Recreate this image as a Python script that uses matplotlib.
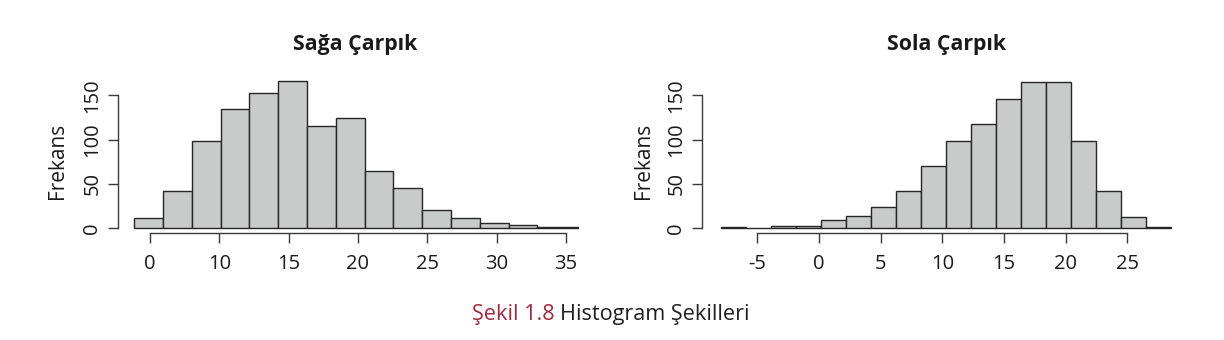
import matplotlib
matplotlib.use("Agg")
import matplotlib.pyplot as plt
import numpy as np

plt.rcParams['font.family'] = ['Open Sans', 'DejaVu Sans']

# ---- data ----
left_title = "Sağa Çarpık"
right_title = "Sola Çarpık"
ylabel = "Frekans"
caption_num = "Şekil 1.8"
caption_text = "Histogram Şekilleri"

left_counts = [12, 42, 99, 134, 153, 166, 115, 124, 65, 45, 21, 12, 6, 4, 2, 2]
left_bin_start = 3.87
left_bin_width = 2.076
left_tick_pos = [5, 10, 15, 20, 25, 30, 35]
left_tick_labels = ["0", "10", "15", "20", "25", "30", "35"]

right_counts = [2, 0, 3, 3, 9, 14, 24, 42, 70, 99, 118, 146, 165, 165, 99, 42, 13, 2]
right_bin_start = -7.97
right_bin_width = 2.029
right_tick_pos = [-5, 0, 5, 10, 15, 20, 25]
right_tick_labels = ["-5", "0", "5", "10", "15", "20", "25"]

y_ticks = [0, 50, 100, 150]

W, H = 1224, 340
fig = plt.figure(figsize=(W / 100, H / 100), dpi=100)
fig.patch.set_facecolor('white')

BAR_FC = '#c9caca'
BAR_EC = '#262626'
AX_C = '#3a3a3a'


def px_rect(l, r, top, bottom):
    return [l / W, 1 - bottom / H, (r - l) / W, (bottom - top) / H]


def draw_hist(ax, counts, start, width, xlim, ticks, labels, title, title_x):
    edges = start + width * np.arange(len(counts) + 1)
    ax.bar(edges[:-1], counts, width=width, align='edge', color=BAR_FC,
           edgecolor=BAR_EC, linewidth=1.0)
    ax.set_xlim(*xlim)
    ax.set_ylim(-5.64, 178.5)
    for s in ['top', 'right']:
        ax.spines[s].set_visible(False)
    ax.spines['left'].set_bounds(0, 150)
    ax.spines['bottom'].set_bounds(ticks[0], ticks[-1])
    for s in ['left', 'bottom']:
        ax.spines[s].set_color(AX_C)
        ax.spines[s].set_linewidth(1.0)
    ax.set_xticks(ticks)
    ax.set_xticklabels(labels)
    ax.set_yticks(y_ticks)
    ax.set_yticklabels([str(v) for v in y_ticks])
    ax.tick_params(axis='both', length=7.2, width=1.0, color=AX_C,
                   labelsize=14.5, labelcolor='#1a1a1a')
    ax.tick_params(axis='x', pad=8)
    ax.tick_params(axis='y', pad=4, labelrotation=90)
    for lab in ax.get_yticklabels():
        lab.set_va('center')
    ax.set_ylabel(ylabel, fontsize=15, color='#1a1a1a')
    ax.set_facecolor('none')
    ax.text(title_x, 1.159, title, transform=ax.transAxes, ha='center',
            va='center', fontsize=15.3, fontweight='bold', color='#1a1a1a')


axL = fig.add_axes(px_rect(118, 579, 70, 233.3))
draw_hist(axL, left_counts, left_bin_start, left_bin_width, (2.692, 35.94),
          left_tick_pos, left_tick_labels, left_title, 0.514)
axL.yaxis.set_label_coords(-0.109, 0.444)

axR = fig.add_axes(px_rect(702, 1180, 70, 233.3))
draw_hist(axR, right_counts, right_bin_start, right_bin_width, (-9.49, 29.28),
          right_tick_pos, right_tick_labels, right_title, 0.512)
axR.yaxis.set_label_coords(-0.100, 0.444)

# caption
t1 = fig.text(471.7 / W, 1 - 320 / H, caption_num, ha='left', va='baseline',
              fontsize=15.6, color='#9e2a3c')
fig.canvas.draw()
r = fig.canvas.get_renderer()
bb = t1.get_window_extent(renderer=r)
fig.text((bb.x1 + 6) / W, 1 - 320 / H, caption_text, ha='left', va='baseline',
         fontsize=15.6, color='#1f1f1f')

fig.savefig('out.png', dpi=100, facecolor='white')
